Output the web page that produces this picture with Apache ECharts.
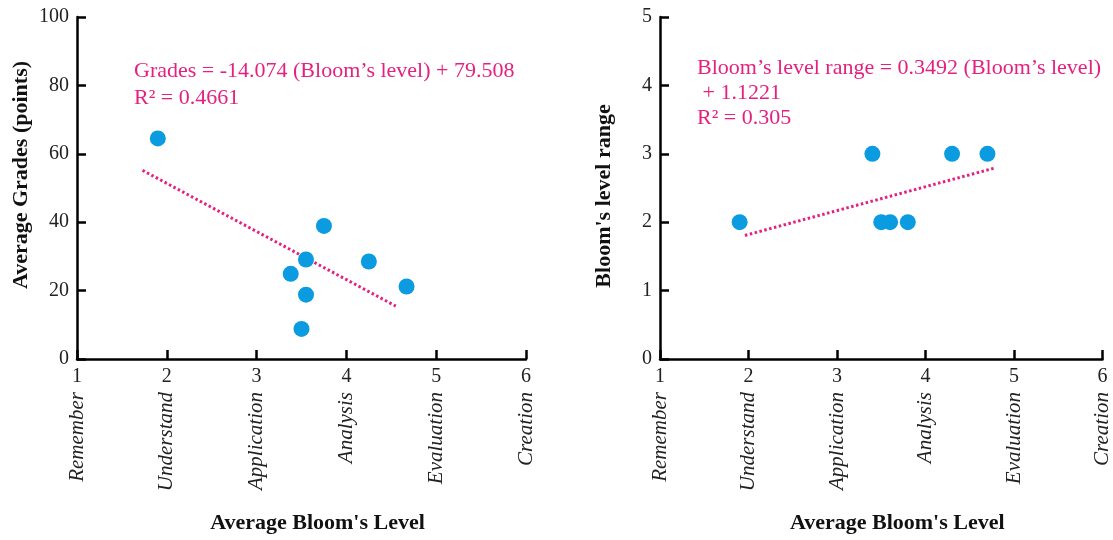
<!DOCTYPE html>
<html>
<head>
<meta charset="utf-8">
<script src="https://cdn.jsdelivr.net/npm/echarts@6/dist/echarts.min.js"></script>
<style>
  html, body { margin: 0; padding: 0; background: #fff; }
  #chart { width: 1113px; height: 540px; }
</style>
</head>
<body>
<div id="chart"></div>
<script>
// Bloom's taxonomy levels shown under the x axis
const levelTicks = [1, 2, 3, 4, 5, 6];
const levelNames = ['Remember', 'Understand', 'Application', 'Analysis', 'Evaluation', 'Creation'];
const gradeTicks = [0, 20, 40, 60, 80, 100];
const rangeTicks = [0, 1, 2, 3, 4, 5];

// Left panel: average Bloom's level vs average grade
const gradesLevel = [1.9, 3.75, 3.55, 4.25, 3.38, 3.55, 4.67, 3.5];
const avgGrades   = [64.5, 38.9, 29.1, 28.5, 24.9, 18.8, 21.2, 8.8];

// Right panel: average Bloom's level vs Bloom's level range
const rangeLevel = [1.9, 3.4, 3.5, 3.6, 3.8, 4.3, 4.7];
const levelRange = [2, 3, 2, 2, 2, 3, 3];

// Linear fits as printed on each panel, with the span the fit line covers
const gradesFit = { slope: -14.074, intercept: 79.508, from: 1.73, to: 4.55 };
const rangeFit  = { slope: 0.3492, intercept: 1.1221, from: 1.96, to: 4.79 };

const FONT = '"Liberation Serif", "DejaVu Serif", serif';
const PINK = '#e5217f';
const BLUE = '#0a9be0';

function fitLine(f) {
  return [f.from, f.to].map(x => [x, f.slope * x + f.intercept]);
}
function pairs(xs, ys) { return xs.map((x, i) => [x, ys[i]]); }

const axisLineStyle = { color: '#000', width: 2.5 };

function numberAxis(grid) {
  return {
    type: 'value', gridIndex: grid, min: levelTicks[0], max: levelTicks[levelTicks.length - 1], interval: 1,
    axisLine: { show: true, lineStyle: axisLineStyle },
    axisTick: { show: true, inside: true, length: 9, lineStyle: axisLineStyle },
    splitLine: { show: false },
    axisLabel: { color: '#222', fontFamily: FONT, fontSize: 20, margin: 8 }
  };
}
function nameAxis(grid) {
  return {
    type: 'value', gridIndex: grid, min: levelTicks[0], max: levelTicks[levelTicks.length - 1], interval: 1,
    position: 'bottom',
    axisLine: { show: false }, axisTick: { show: false }, splitLine: { show: false },
    axisLabel: {
      rotate: 90, margin: 33, color: '#222', fontFamily: FONT, fontSize: 21, fontStyle: 'italic',
      formatter: v => levelNames[levelTicks.indexOf(v)] || ''
    },
    name: "Average Bloom's Level", nameLocation: 'middle', nameGap: 153,
    nameTextStyle: { color: '#111', fontFamily: FONT, fontSize: 22, fontWeight: 'bold', padding: [0, 0, 0, 32] }
  };
}
function valueAxis(grid, ticks, name, gap, pad) {
  return {
    type: 'value', gridIndex: grid, min: ticks[0], max: ticks[ticks.length - 1],
    interval: ticks[1] - ticks[0],
    axisLine: { show: true, lineStyle: axisLineStyle },
    axisTick: { show: true, inside: true, length: 9, lineStyle: axisLineStyle },
    splitLine: { show: false },
    axisLabel: { color: '#222', fontFamily: FONT, fontSize: 20, margin: 8 },
    name: name, nameLocation: 'middle', nameGap: gap,
    nameTextStyle: { color: '#111', fontFamily: FONT, fontSize: 22, fontWeight: 'bold', padding: pad }
  };
}

function scatter(x, y, data) {
  return {
    type: 'scatter', xAxisIndex: x, yAxisIndex: y, data: data,
    symbol: 'circle', symbolSize: 16, itemStyle: { color: BLUE, opacity: 1 }, z: 3
  };
}
function trend(x, y, f) {
  return {
    type: 'line', xAxisIndex: x, yAxisIndex: y, data: fitLine(f),
    showSymbol: false, symbol: 'none', silent: true,
    lineStyle: { color: PINK, width: 3, type: [2.5, 2.5] }, z: 2
  };
}

function textBlock(left, top, lines, lh) {
  return {
    type: 'text', left: left, top: top,
    style: {
      text: lines.join('\n'), fill: PINK, font: '22px ' + FONT, lineHeight: lh
    }
  };
}

const chart = echarts.init(document.getElementById('chart'), null, { renderer: 'canvas' });
chart.setOption({
  animation: false,
  backgroundColor: '#fff',
  grid: [
    { left: 77, top: 17, width: 449, height: 342 },
    { left: 660, top: 17, width: 447, height: 342 }
  ],
  xAxis: [numberAxis(0), nameAxis(0), numberAxis(1), nameAxis(1)],
  yAxis: [
    valueAxis(0, gradeTicks, 'Average Grades (points)', 45, [0, 0, 0, 26]),
    valueAxis(1, rangeTicks, "Bloom's level range", 45, [0, 16, 0, 0])
  ],
  series: [
    trend(0, 0, gradesFit),
    scatter(0, 0, pairs(gradesLevel, avgGrades)),
    trend(2, 1, rangeFit),
    scatter(2, 1, pairs(rangeLevel, levelRange))
  ],
  graphic: [
    textBlock(134, 58, ['Grades = -14.074 (Bloom\u2019s level) + 79.508', 'R\u00b2 = 0.4661'], 27),
    textBlock(697, 56, ['Bloom\u2019s level range = 0.3492 (Bloom\u2019s level)', ' + 1.1221', 'R\u00b2 = 0.305'], 25)
  ]
});
</script>
</body>
</html>
